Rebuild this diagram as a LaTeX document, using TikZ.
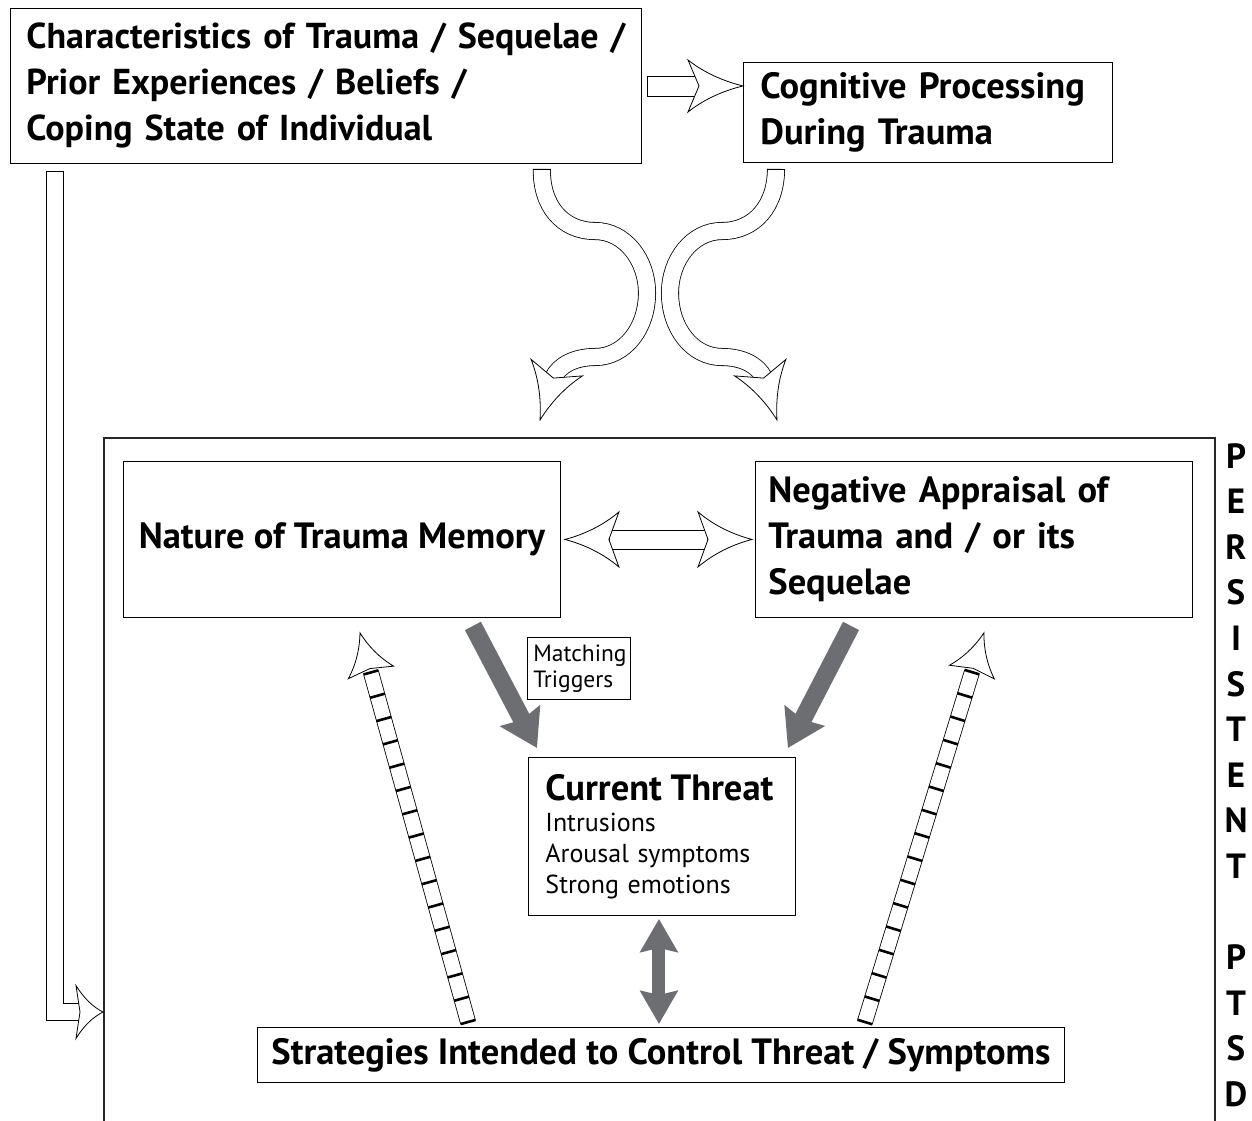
\documentclass[tikz,border=0pt]{standalone}
\usepackage{fontspec}
\setmainfont{PT Sans}
\usetikzlibrary{arrows.meta, positioning, calc}

\definecolor{arrowgray}{RGB}{109,110,113}

\tikzset{pics/hollowhead/.style n args={3}{code={%
  \draw[fill=white, line width=0.8pt, line join=miter]
    (0,0) .. controls (-0.35*#1,0.18*#2) and (-0.7*#1,0.5*#2) .. (-#1,#2)
    -- (-#3,0) -- (-#1,-#2)
    .. controls (-0.7*#1,-0.5*#2) and (-0.35*#1,-0.18*#2) .. cycle;
}}}

\begin{document}
\begin{tikzpicture}[x=1pt, y=-1pt]

\tikzset{box/.style = {draw=black, line width=0.9pt, inner sep=0pt, anchor=north west,
    font=\fontsize{36.5}{46}\selectfont\bfseries}}
\tikzset{frame/.style = {draw=black!85, line width=2.4pt, inner sep=0pt, anchor=north west}}
\tikzset{shaft/.style = {draw=black, line width=0.8pt, double=white, double distance=16.4pt}}
\tikzset{ladder/.style = {draw=black, line width=0.8pt, double=white, double distance=14.4pt}}
\tikzset{rung/.style = {fill=black, inner sep=0pt, minimum width=2.6pt, minimum height=15.5pt,
    sloped, allow upside down}}
\tikzset{solidarrow/.style = {draw=arrowgray, line width=18pt,
    -{Stealth[inset=4pt, length=36pt, width=44pt]}}}
\tikzset{head/.style = {pos=1, sloped, allow upside down}}

\useasboundingbox (0,0) rectangle (1252,1120);

% boxes
\node[box, minimum width=631pt, minimum height=155pt, text width=599pt, align=left,
  font=\fontsize{36}{46}\selectfont\bfseries] (chars) at (10,8)
  {\mbox{Characteristics of Trauma / Sequelae /}\\ Prior Experiences / Beliefs /\\ Coping State of Individual};
\node[box, minimum width=369pt, minimum height=100pt, text width=335pt, align=left] (cogn) at (743,62)
  {\mbox{Cognitive Processing}\\ During Trauma};
\node[frame, minimum width=1111pt, minimum height=720pt] (ptsd) at (103,437) {};
\node[box, minimum width=437pt, minimum height=156pt] (memory) at (123,461) {Nature of Trauma Memory};
\node[box, minimum width=437pt, minimum height=156pt, text width=411pt, align=left] (appraisal) at (755,461)
  {Negative Appraisal of\\ Trauma and / or its\\ Sequelae};
\node[box, minimum width=103pt, minimum height=62pt, text width=91pt, align=left, line width=0.7pt,
  font=\fontsize{23.5}{26}\selectfont] (triggers) at (527,637) {\mbox{Matching}\\ \mbox{Triggers}};
\node[box, minimum width=267pt, minimum height=158pt, text width=233pt, align=left,
  font=\fontsize{26}{31}\selectfont] (threat) at (528,757)
  {\mbox{\fontsize{36.5}{36}\selectfont\bfseries Current Threat}\\ Intrusions\\ \mbox{Arousal symptoms}\\ \mbox{Strong emotions}};
\node[box, minimum width=807pt, minimum height=55pt] (strategies) at (257,1027)
  {Strategies Intended to Control Threat / Symptoms};
\node[anchor=north, align=center, inner sep=0pt, font=\fontsize{35}{45.6}\selectfont\bfseries] (label) at (1236,443)
  {P\\E\\R\\S\\I\\S\\T\\E\\N\\T\\[45.6pt]P\\T\\S\\D};

% hollow arrow to cognitive processing
\draw[fill=white, line width=0.8pt] ($(chars.east)+(5,-10)$) rectangle ($(cogn.west |- chars.east)+(-43,10)$);
\path (chars.east) -- (cogn.west |- chars.east) pic[head]{hollowhead={55}{26}{44}};

% long hollow arrow down the left side
\coordinate (ltip) at ($(ptsd.north west)+(0,575)$);
\draw[shaft] ($(chars.south west)+(45,7)$) |- ($(ltip)+(-22,0)$);
\draw[line width=0.8pt] ($(chars.south west)+(36,7)$) -- ($(chars.south west)+(54,7)$);
\path ($(ltip)+(-27,0)$) -- (ltip) pic[head]{hollowhead={27}{26.5}{23}};

% curved hollow arrows
\draw[shaft] ($(chars.south east)+(-100,5)$) .. controls (541,205) and (562,231) .. (595,231)
  .. controls (625,231) and (647,260) .. (647,293)
  .. controls (647,328) and (625,357) .. (595,357)
  .. controls (575,357) and (559,365) .. (553,378);
\draw[line width=0.8pt] ($(chars.south east)+(-109,5)$) -- ($(chars.south east)+(-91,5)$);
\path (557,367) -- ($(ptsd.north west)+(437,-17)$) pic[head]{hollowhead={55}{27}{44}};

\draw[shaft] ($(cogn.south west)+(33,6)$) .. controls (776,205) and (755,231) .. (722,231)
  .. controls (692,231) and (670,260) .. (670,293)
  .. controls (670,328) and (692,357) .. (722,357)
  .. controls (742,357) and (758,365) .. (764,378);
\draw[line width=0.8pt] ($(cogn.south west)+(24,6)$) -- ($(cogn.south west)+(42,6)$);
\path (760,367) -- ($(ptsd.north west)+(674,-17)$) pic[head]{hollowhead={55}{27}{44}};

% two-way hollow arrow
\draw[fill=white, line width=0.8pt] ($(memory.east)+(48,-9.5)$) rectangle ($(appraisal.west)+(-48,9.5)$);
\path (appraisal.west) -- ($(memory.east)+(4,0)$) pic[head]{hollowhead={54}{27.5}{44}};
\path (memory.east) -- ($(appraisal.west)+(-3,0)$) pic[head]{hollowhead={54}{27.5}{44}};

% solid grey arrows
\draw[solidarrow] ($(memory.south east)+(-88,8)$) -- ($(threat.north west)+(9,-9)$);
\draw[solidarrow] ($(appraisal.south west)+(96,8)$) -- ($(threat.north east)+(-8,-9)$);
\draw[draw=arrowgray, line width=13pt,
  {Stealth[inset=4pt, length=33pt, width=37pt]}-{Stealth[inset=4pt, length=33pt, width=37pt]}]
  ($(threat.south)+(-3,3)$) -- ($(strategies.north)+(-2,-3)$);

% ladder arrows
\coordinate (lbot) at ($(strategies.north west)+(211,-5)$);
\coordinate (ltop) at ($(memory.south west)+(237,15)$);
\coordinate (lneck) at ($(ltop)!41pt!(lbot)$);
\draw[ladder] (lbot) -- (lneck);
\foreach \k in {0,...,15}
  \path (lbot) -- (lneck) node[rung, pos=\k/15] {};
\path (lneck) -- (ltop) pic[head]{hollowhead={41}{23.5}{37}};

\coordinate (rbot) at ($(strategies.north east)+(-200,-5)$);
\coordinate (rtop) at ($(appraisal.south east)+(-209,15)$);
\coordinate (rneck) at ($(rtop)!41pt!(rbot)$);
\draw[ladder] (rbot) -- (rneck);
\foreach \k in {0,...,15}
  \path (rbot) -- (rneck) node[rung, pos=\k/15] {};
\path (rneck) -- (rtop) pic[head]{hollowhead={41}{23.5}{37}};

\end{tikzpicture}
\end{document}
